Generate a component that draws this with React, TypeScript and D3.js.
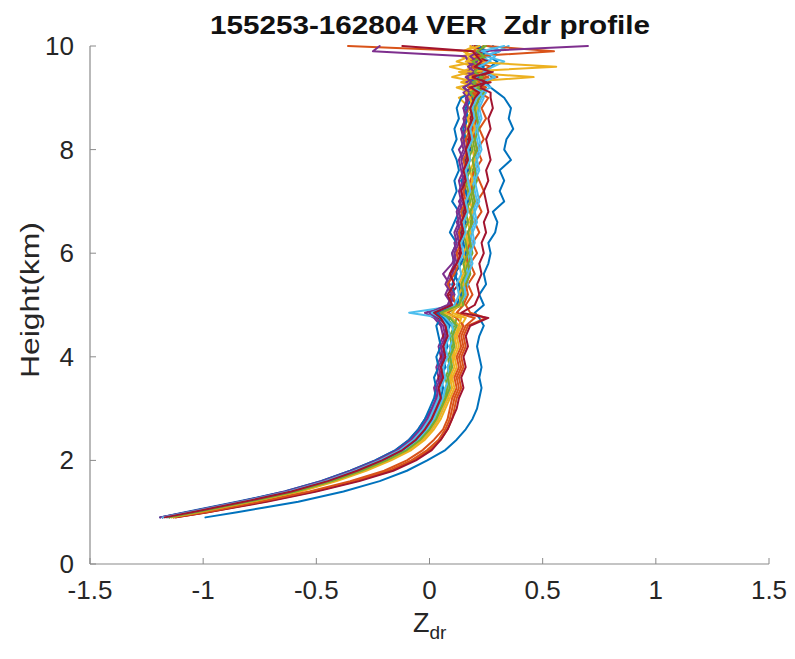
import React from 'react';
import * as d3 from 'd3';

const heights = [0.9, 1.0, 1.2, 1.4, 1.6, 1.8, 2.0, 2.2, 2.4, 2.6, 2.8, 3.0,
  3.2, 3.4, 3.6, 3.8, 4.0, 4.2, 4.4, 4.6, 4.75, 4.85,
  5.0, 5.2, 5.4, 5.6, 5.8, 6.0, 6.2, 6.4, 6.6, 6.8, 7.0, 7.2, 7.4, 7.6, 7.8, 8.0, 8.2, 8.4, 8.6, 8.8, 9.0,
  9.1, 9.2, 9.3, 9.4, 9.5, 9.6, 9.7, 9.8, 9.9, 10.0];

const colorOrder = ['#0072BD', '#D95319', '#EDB120', '#7E2F8E', '#77AC30', '#4DBEEE', '#A2142F'];

const s00 = [-0.99,-0.85,-0.58,-0.38,-0.22,-0.10,-0.01,0.07,0.12,0.16,0.19,0.21,
  0.22,0.23,0.22,0.23,0.22,0.21,0.22,0.24,0.22,0.20,
  0.24,0.22,0.25,0.24,0.26,0.27,0.26,0.29,0.30,0.28,0.33,0.31,0.33,0.31,0.36,0.33,0.34,0.37,0.35,0.36,0.33,
  0.30,0.27,0.25,0.28,0.24,0.27,0.30,0.26,0.31,0.28];
const s01 = [-1.12,-0.98,-0.73,-0.51,-0.32,-0.17,-0.07,0.00,0.05,0.08,0.10,0.11,
  0.12,0.14,0.13,0.15,0.14,0.16,0.15,0.17,0.25,0.18,
  0.16,0.19,0.17,0.20,0.18,0.21,0.19,0.22,0.20,0.23,0.21,0.24,0.22,0.20,0.23,0.21,0.24,0.22,0.25,0.23,0.26,
  0.22,0.25,0.21,0.30,0.22,0.27,0.20,0.25,0.19,0.24];
const s02 = [-1.15,-1.03,-0.79,-0.59,-0.43,-0.30,-0.19,-0.10,-0.04,0.00,0.03,0.05,
  0.07,0.08,0.10,0.09,0.11,0.10,0.12,0.13,0.10,0.04,
  0.12,0.14,0.13,0.15,0.17,0.16,0.18,0.17,0.19,0.18,0.16,0.19,0.17,0.15,0.18,0.16,0.14,0.17,0.15,0.18,0.13,
  0.19,0.12,0.22,0.10,0.18,0.09,0.21,0.14,0.23,0.18];
const s03 = [-1.19,-1.07,-0.84,-0.64,-0.48,-0.35,-0.24,-0.15,-0.09,-0.05,-0.02,0.01,
  0.03,0.02,0.04,0.03,0.05,0.04,0.06,0.05,0.02,-0.02,
  0.10,0.07,0.09,0.06,0.10,0.12,0.11,0.14,0.12,0.15,0.13,0.16,0.14,0.17,0.15,0.13,0.16,0.14,0.17,0.15,0.18,
  0.16,0.21,0.17,0.23,0.15,0.20,0.18,0.22,0.25,0.19];
const s04 = [-1.16,-1.04,-0.81,-0.60,-0.44,-0.31,-0.20,-0.11,-0.05,-0.01,0.02,0.04,
  0.06,0.08,0.07,0.09,0.08,0.10,0.09,0.11,0.12,0.08,
  0.14,0.16,0.15,0.17,0.16,0.18,0.17,0.19,0.18,0.20,0.19,0.18,0.20,0.19,0.21,0.20,0.19,0.21,0.20,0.22,0.21,
  0.19,0.23,0.20,0.24,0.21,0.19,0.22,0.20,0.23,0.21];
const s05 = [-1.15,-1.03,-0.80,-0.58,-0.42,-0.29,-0.18,-0.09,-0.03,0.01,0.04,0.06,
  0.08,0.09,0.08,0.10,0.09,0.11,0.10,0.12,0.06,-0.09,
  0.14,0.15,0.17,0.16,0.18,0.17,0.19,0.18,0.20,0.19,0.21,0.20,0.19,0.21,0.20,0.22,0.21,0.20,0.22,0.21,0.23,
  0.25,0.21,0.26,0.22,0.24,0.20,0.27,0.23,0.31,0.26];
const s06 = [-1.18,-1.06,-0.83,-0.62,-0.46,-0.33,-0.22,-0.13,-0.07,-0.03,0.00,0.02,
  0.04,0.05,0.04,0.06,0.05,0.07,0.06,0.08,0.04,0.01,
  0.12,0.09,0.13,0.11,0.14,0.13,0.15,0.14,0.16,0.15,0.17,0.16,0.15,0.17,0.16,0.18,0.17,0.19,0.18,0.20,0.19,
  0.22,0.18,0.27,0.20,0.24,0.19,0.23,0.21,0.26,0.20];
const s07 = [-1.19,-1.08,-0.85,-0.64,-0.48,-0.35,-0.24,-0.15,-0.09,-0.05,-0.02,0.00,
  0.02,0.03,0.02,0.04,0.03,0.05,0.04,0.03,0.05,0.00,
  0.09,0.11,0.10,0.12,0.11,0.10,0.12,0.09,0.11,0.13,0.10,0.12,0.11,0.13,0.12,0.10,0.12,0.11,0.13,0.12,0.14,
  0.18,0.15,0.20,0.17,0.22,0.19,0.23,0.20,0.24,0.22];
const s08 = [-1.13,-0.99,-0.74,-0.52,-0.33,-0.18,-0.08,-0.01,0.04,0.07,0.09,0.10,
  0.11,0.13,0.12,0.14,0.13,0.15,0.14,0.16,0.20,0.12,
  0.15,0.17,0.16,0.18,0.17,0.16,0.18,0.17,0.19,0.18,0.20,0.19,0.18,0.20,0.19,0.21,0.20,0.19,0.21,0.20,0.22,
  0.19,0.24,0.18,0.26,0.20,0.23,0.18,0.25,0.20,-0.36];
const s09 = [-1.14,-1.02,-0.78,-0.57,-0.41,-0.28,-0.17,-0.08,-0.02,0.02,0.05,0.07,
  0.09,0.11,0.10,0.12,0.11,0.13,0.12,0.14,0.16,0.10,
  0.13,0.15,0.14,0.16,0.15,0.17,0.16,0.18,0.17,0.19,0.18,0.17,0.19,0.18,0.20,0.19,0.18,0.20,0.19,0.21,0.20,
  0.17,0.22,0.15,0.46,0.14,0.20,0.12,0.18,0.15,0.20];
const s10 = [-1.18,-1.06,-0.83,-0.63,-0.47,-0.34,-0.23,-0.14,-0.08,-0.04,-0.01,0.01,
  0.03,0.04,0.06,0.05,0.07,0.06,0.08,0.07,0.09,0.03,
  0.09,0.11,0.08,0.10,0.12,0.11,0.13,0.12,0.14,0.13,0.15,0.14,0.13,0.15,0.14,0.16,0.15,0.14,0.16,0.15,0.17,
  0.15,0.19,0.16,0.20,0.17,0.19,0.17,0.16,-0.25,-0.22];
const s11 = [-1.15,-1.03,-0.80,-0.59,-0.43,-0.30,-0.19,-0.10,-0.04,0.00,0.03,0.05,
  0.08,0.07,0.09,0.08,0.10,0.09,0.11,0.10,0.08,0.05,
  0.15,0.14,0.16,0.18,0.17,0.19,0.18,0.17,0.19,0.18,0.20,0.19,0.21,0.20,0.19,0.21,0.20,0.22,0.21,0.20,0.22,
  0.24,0.21,0.25,0.22,0.26,0.23,0.21,0.25,0.22,0.24];
const s12 = [-1.16,-1.04,-0.81,-0.60,-0.44,-0.31,-0.20,-0.11,-0.05,-0.01,0.02,0.04,
  0.06,0.07,0.09,0.08,0.10,0.09,0.11,0.10,0.07,0.02,
  0.13,0.16,0.15,0.17,0.19,0.18,0.20,0.19,0.21,0.20,0.22,0.21,0.20,0.22,0.21,0.23,0.22,0.21,0.23,0.22,0.24,
  0.22,0.27,0.23,0.29,0.24,0.28,0.33,0.25,0.30,0.35];
const s13 = [-1.12,-0.98,-0.72,-0.50,-0.31,-0.16,-0.06,0.01,0.05,0.08,0.10,0.12,
  0.13,0.15,0.14,0.16,0.15,0.17,0.16,0.18,0.26,0.14,
  0.20,0.22,0.21,0.23,0.22,0.24,0.23,0.25,0.24,0.26,0.25,0.24,0.26,0.25,0.27,0.26,0.25,0.27,0.26,0.28,0.27,
  0.27,0.22,0.25,0.20,0.28,0.21,0.26,0.20,0.24,0.20];
const s14 = [-1.18,-1.06,-0.82,-0.61,-0.45,-0.32,-0.21,-0.12,-0.06,-0.02,0.01,0.03,
  0.05,0.06,0.05,0.07,0.06,0.08,0.07,0.09,0.06,0.03,
  0.12,0.14,0.13,0.11,0.14,0.16,0.15,0.13,0.16,0.14,0.17,0.16,0.14,0.17,0.15,0.18,0.16,0.15,0.17,0.16,0.19,
  0.17,0.21,0.18,0.22,0.19,0.24,0.20,0.23,0.25,0.21];
const s15 = [-1.13,-0.99,-0.75,-0.53,-0.35,-0.20,-0.10,-0.03,0.02,0.06,0.08,0.09,
  0.10,0.12,0.11,0.13,0.12,0.14,0.13,0.15,0.12,0.08,
  0.12,0.10,0.08,0.11,0.13,0.12,0.14,0.13,0.15,0.14,0.16,0.15,0.17,0.16,0.15,0.17,0.16,0.18,0.17,0.19,0.18,
  0.21,0.17,0.23,0.18,0.22,0.19,0.24,0.20,0.55,0.25];
const s16 = [-1.14,-1.02,-0.79,-0.58,-0.42,-0.29,-0.18,-0.09,-0.03,0.01,0.04,0.06,
  0.08,0.10,0.09,0.11,0.10,0.12,0.11,0.13,0.14,0.06,
  0.14,0.13,0.15,0.14,0.16,0.15,0.17,0.16,0.15,0.17,0.16,0.18,0.17,0.16,0.18,0.17,0.19,0.18,0.17,0.19,0.18,
  0.16,0.21,0.14,0.19,0.13,0.56,0.16,0.20,0.15,0.22];
const s17 = [-1.19,-1.07,-0.84,-0.63,-0.47,-0.34,-0.23,-0.14,-0.08,-0.04,-0.01,0.02,
  0.04,0.03,0.05,0.04,0.06,0.05,0.07,0.06,0.03,0.00,
  0.08,0.10,0.07,0.09,0.11,0.10,0.12,0.11,0.13,0.12,0.14,0.13,0.15,0.14,0.13,0.15,0.14,0.16,0.15,0.17,0.16,
  0.18,0.15,0.19,0.16,0.20,0.17,0.21,0.18,0.22,0.70];
const s18 = [-1.15,-1.03,-0.80,-0.59,-0.43,-0.30,-0.19,-0.10,-0.04,0.00,0.03,0.05,
  0.07,0.09,0.08,0.10,0.09,0.11,0.10,0.12,0.09,0.05,
  0.13,0.15,0.14,0.16,0.15,0.17,0.16,0.15,0.17,0.16,0.18,0.17,0.16,0.18,0.17,0.19,0.18,0.17,0.19,0.18,0.20,
  0.18,0.22,0.19,0.23,0.20,0.22,0.19,0.24,0.21,0.25];
const s19 = [-1.18,-1.06,-0.83,-0.62,-0.46,-0.33,-0.22,-0.13,-0.07,-0.03,0.00,0.02,
  0.04,0.05,0.07,0.06,0.08,0.07,0.09,0.08,0.05,0.01,
  0.11,0.13,0.12,0.14,0.13,0.15,0.14,0.16,0.15,0.17,0.16,0.18,0.17,0.16,0.18,0.17,0.19,0.18,0.20,0.19,0.21,
  0.23,0.19,0.24,0.20,0.25,0.22,0.26,0.29,0.23,0.33];
const s20 = [-1.17,-1.05,-0.82,-0.61,-0.45,-0.32,-0.21,-0.12,-0.06,-0.02,0.01,0.03,
  0.05,0.04,0.06,0.05,0.07,0.06,0.08,0.07,0.05,0.02,
  0.10,0.08,0.11,0.09,0.12,0.14,0.13,0.15,0.14,0.16,0.15,0.14,0.16,0.15,0.17,0.16,0.18,0.17,0.19,0.18,0.20,
  0.22,0.18,0.25,0.19,0.27,0.20,0.23,0.21,0.19,-0.12];

const profiles = [s00, s01, s02, s03, s04, s05, s06, s07, s08, s09, s10,
  s11, s12, s13, s14, s15, s16, s17, s18, s19, s20];

const xTicks = [-1.5, -1, -0.5, 0, 0.5, 1, 1.5];
const yTicks = [0, 2, 4, 6, 8, 10];
const titleText = '155253-162804 VER\u00A0\u00A0Zdr profile';
const yLabelText = 'Height(km)';

export default function App() {
  const W = 795, H = 659;
  const x = d3.scaleLinear().domain([-1.5, 1.5]).range([90, 769]);
  const y = d3.scaleLinear().domain([0, 10]).range([564, 46]);
  const line = d3.line<number>()
    .x((d) => x(d))
    .y((_, i) => y(heights[i]));
  const axisColor = '#8a8a8a';
  const textColor = '#262626';
  const font = 'Liberation Sans, Arial, Helvetica, sans-serif';
  return (
    <svg width={W} height={H} style={{ position: 'absolute', left: 0, top: 0, background: '#fff' }}>
      <rect x={0} y={0} width={W} height={H} fill="#fff" />
      <g>
        {profiles.map((p, i) => (
          <path key={i} d={line(p) || ''} fill="none" stroke={colorOrder[i % 7]}
            strokeWidth={2} strokeLinejoin="round" strokeLinecap="round" />
        ))}
      </g>
      <line x1={x(-1.5)} x2={x(1.5)} y1={y(0)} y2={y(0)} stroke={axisColor} strokeWidth={1.2} />
      <line x1={x(-1.5)} x2={x(-1.5)} y1={y(0)} y2={y(10)} stroke={axisColor} strokeWidth={1.2} />
      {xTicks.map((t) => (
        <g key={'xt' + t}>
          <line x1={x(t)} x2={x(t)} y1={y(0)} y2={y(0) - 6} stroke={axisColor} strokeWidth={1} />
          <text x={x(t)} y={599} textAnchor="middle" fontFamily={font} fontSize={26} fill={textColor}>{String(t)}</text>
        </g>
      ))}
      {yTicks.map((t) => (
        <g key={'yt' + t}>
          <line x1={x(-1.5)} x2={x(-1.5) + 6} y1={y(t)} y2={y(t)} stroke={axisColor} strokeWidth={1} />
          <text x={74} y={y(t) + 9} textAnchor="end" fontFamily={font} fontSize={26} fill={textColor}>{String(t)}</text>
        </g>
      ))}
      <text x={430} y={34} textAnchor="middle" fontFamily={font} fontSize={26} fontWeight="bold" fill="#111"
        textLength={440} lengthAdjust="spacingAndGlyphs">{titleText}</text>
      <text transform={`translate(39,300) rotate(-90)`} textAnchor="middle" fontFamily={font} fontSize={26}
        fill={textColor} textLength={156} lengthAdjust="spacingAndGlyphs">{yLabelText}</text>
      <text x={413} y={632} fontFamily={font} fontSize={27} fill={textColor}>Z<tspan dy={7} fontSize={19}>dr</tspan></text>
    </svg>
  );
}
